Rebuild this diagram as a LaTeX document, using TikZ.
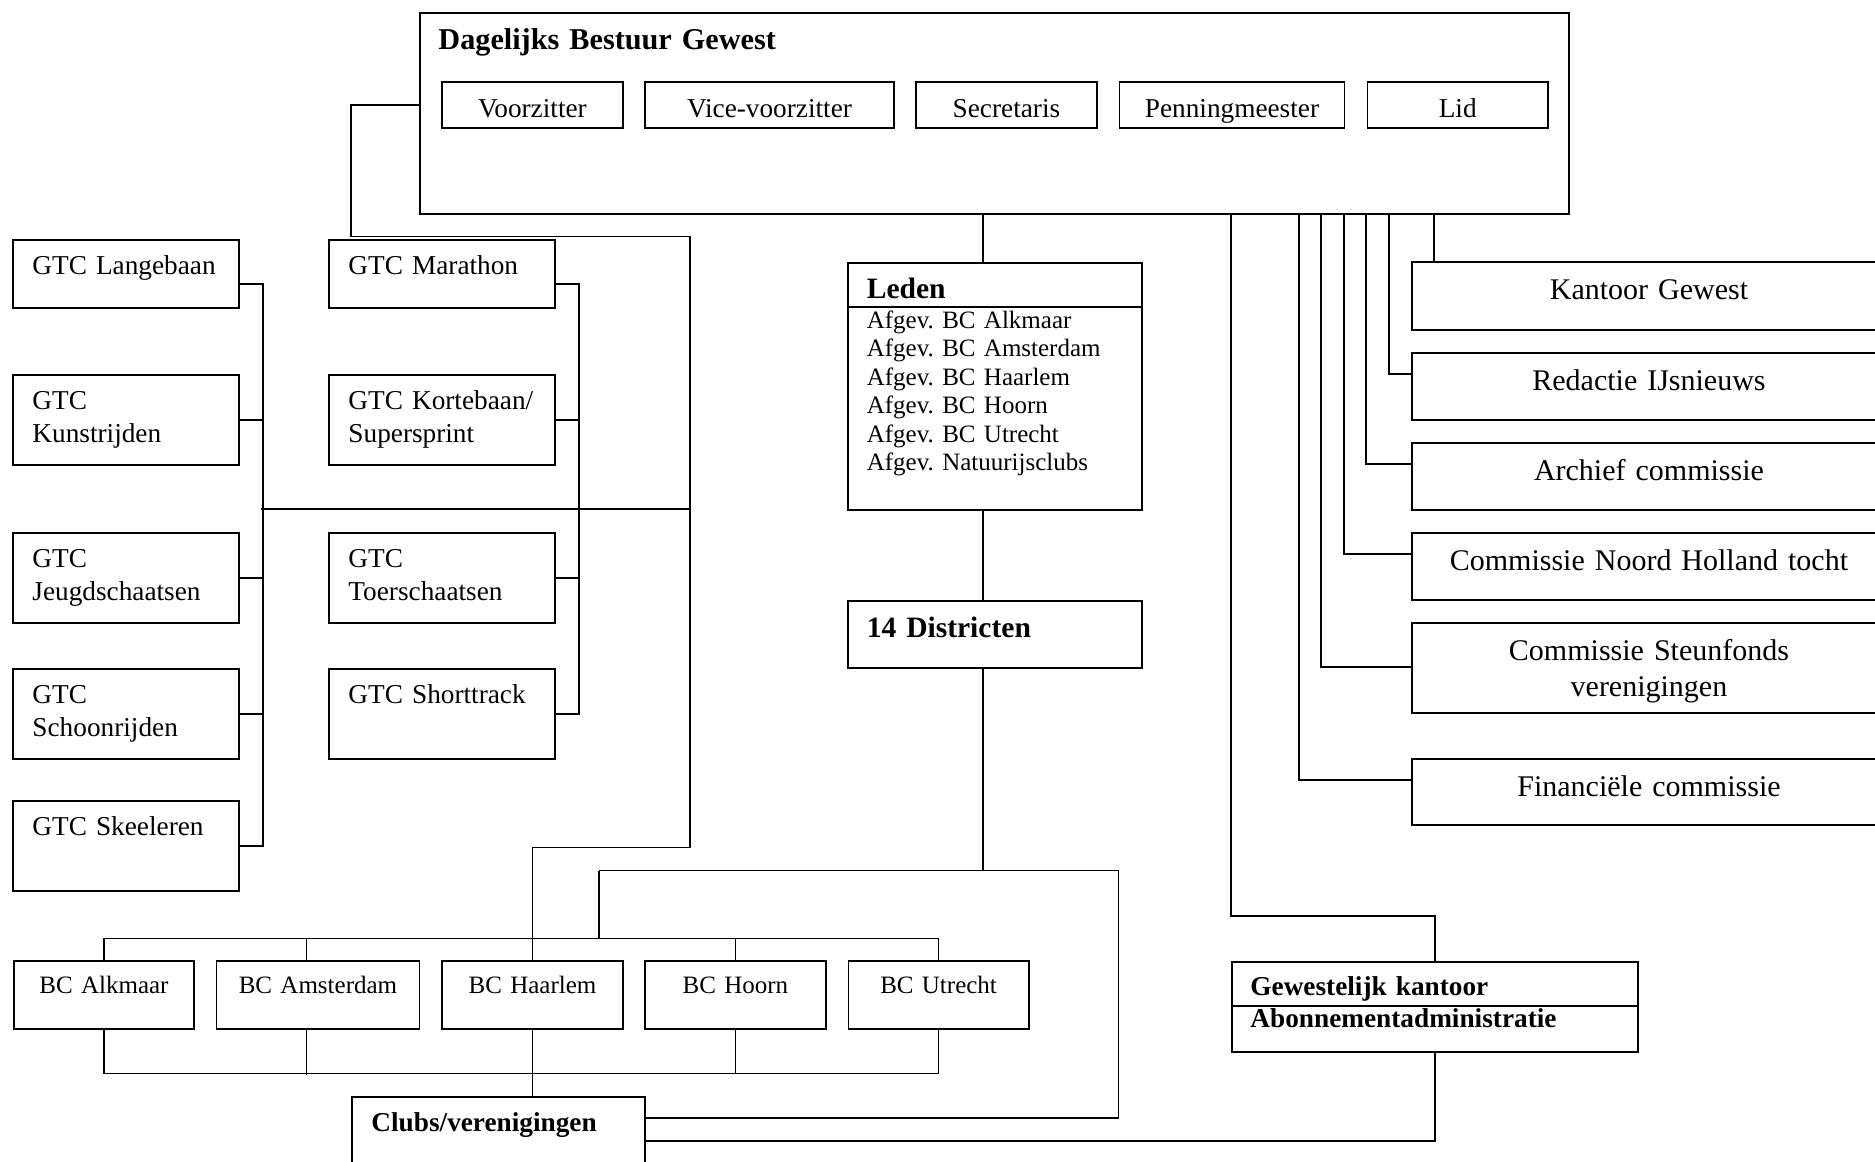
\documentclass[tikz,border=0pt]{standalone}
\usepackage{fontspec}
\setmainfont{Liberation Serif}
\frenchspacing

\newcommand{\ftitle}{\fontsize{13.3}{16}\selectfont\bfseries}
\newcommand{\fhead}{\fontsize{13}{15.6}\selectfont\bfseries}
\newcommand{\fbold}{\fontsize{12}{14.39}\selectfont\bfseries}
\newcommand{\fgtc}{\fontsize{12}{14.3}\selectfont}
\newcommand{\fcom}{\fontsize{13.2}{15.84}\selectfont}
\newcommand{\fsmall}{\fontsize{11}{12.53}\selectfont}
\newcommand{\fmem}{\fontsize{12}{14}\selectfont}

\tikzset{
    box/.style 2 args={draw, line width=0.85pt, anchor=north west, inner sep=0pt,
        minimum width=#1*0.44pt, minimum height=#2*0.44pt},
    lab/.style={draw=none, inner sep=0pt, minimum size=0pt, text width=200pt},
    gtc/.style 2 args={box={226}{#1}, label={[lab, anchor=base west, align=left, font=\fgtc, xshift=8.8pt, yshift=-15.62pt]north west:{#2}}},
    com/.style 2 args={box={474}{#1}, label={[lab, anchor=base, align=center, font=\fcom, yshift=-16.94pt]north:{#2}}},
    bc/.style 2 args={box={#1}{68}, label={[lab, anchor=base, align=center, font=\fsmall, yshift=-14.65pt]north:{#2}}},
    mem/.style 2 args={box={#1}{46}, label={[lab, anchor=base, align=center, font=\fmem, yshift=4.84pt]south:{#2}}},
    tl/.style n args={4}{label={[lab, anchor=base west, align=left, font=#1, xshift=#2*0.44pt, yshift=-#3*0.44pt]north west:{#4}}}
}

\begin{document}
\begin{tikzpicture}[x=0.44pt, y=-0.44pt, link/.style={line width=0.65pt}]
    \useasboundingbox (0,0) rectangle (1875,1162);
    \clip (0,0) rectangle (1875,1162);

    % bestuur
    \node[box={1149}{201}, tl={\ftitle}{19}{38}{Dagelijks Bestuur Gewest}] (best) at (419,12) {};
    \node[mem={181}{Voorzitter}] (voorz) at (441,81) {};
    \node[mem={249}{Vice-voorzitter}] (vice) at (644,81) {};
    \node[mem={181}{Secretaris}] (secr) at (915,81) {};
    \node[mem={225}{Penningmeester}] (penn) at (1118.5,81) {};
    \node[mem={180.5}{Lid}] (lid) at (1366.5,81) {};

    % GTC
    \node[gtc={68}{GTC Langebaan}] (lang) at (12,239) {};
    \node[gtc={90}{GTC\\Kunstrijden}] (kunst) at (12,374) {};
    \node[gtc={90}{GTC\\Jeugdschaatsen}] (jeugd) at (12,532) {};
    \node[gtc={90}{GTC\\Schoonrijden}] (schoon) at (12,668) {};
    \node[gtc={90}{GTC Skeeleren}] (skeel) at (12,800) {};
    \node[gtc={68}{GTC Marathon}] (mara) at (328,239) {};
    \node[gtc={90}{GTC Kortebaan/\\Supersprint}] (korte) at (328,374) {};
    \node[gtc={90}{GTC\\Toerschaatsen}] (toer) at (328,532) {};
    \node[gtc={90}{GTC Shorttrack}] (short) at (328,668) {};

    % leden en districten
    \node[box={294}{247}, tl={\fhead}{19.4}{36.6}{Leden},
        tl={\fsmall}{19.4}{66.3}{Afgev. BC Alkmaar\\Afgev. BC Amsterdam\\Afgev. BC Haarlem\\Afgev. BC Hoorn\\Afgev. BC Utrecht\\Afgev. Natuurijsclubs}] (leden) at (847,262) {};
    \draw[line width=0.85pt] ([yshift=-19.8pt]leden.north west) -- ([yshift=-19.8pt]leden.north east);
    \node[box={294}{67}, tl={\fhead}{19.4}{37.3}{14 Districten}] (distr) at (847,600) {};

    % commissies
    \node[com={68}{Kantoor Gewest}] (kant) at (1411,261) {};
    \node[com={67}{Redactie IJsnieuws}] (redac) at (1411,352) {};
    \node[com={67}{Archief commissie}] (arch) at (1411,442) {};
    \node[com={67}{Commissie Noord Holland tocht}] (noord) at (1411,532) {};
    \node[com={90}{Commissie Steunfonds\\verenigingen}] (steun) at (1411,622) {};
    \node[com={66}{Financiële commissie}] (finan) at (1411,758) {};

    \node[box={406}{90}, tl={\fbold}{19}{34}{Gewestelijk kantoor\\Abonnementadministratie}] (gewest) at (1231,961) {};
    \draw[line width=0.85pt] ([yshift=-19.8pt]gewest.north west) -- ([yshift=-19.8pt]gewest.north east);

    % bc's en clubs
    \node[bc={180}{BC Alkmaar}] (alk) at (13,960) {};
    \node[bc={203}{BC Amsterdam}] (ams) at (215.5,960) {};
    \node[bc={181}{BC Haarlem}] (haar) at (441,960) {};
    \node[bc={181.6}{BC Hoorn}] (hoorn) at (643.6,960) {};
    \node[bc={180.2}{BC Utrecht}] (utr) at (847.5,960) {};
    \node[box={293}{90}, tl={\fbold}{20}{35.5}{Clubs/verenigingen}] (clubs) at (351,1096) {};

    \coordinate (c1) at (351,236.5);
    \coordinate (c2) at (690,847.5);
    \coordinate (c3) at (261,509);
    \coordinate (c4) at (983,870.7);
    \coordinate (c5) at (599,870.7);
    \coordinate (c6) at (1118.5,870.7);
    \coordinate (c7) at (0,938.3);
    \coordinate (c8) at (0,1073.3);
    \coordinate (c9) at (1231,916);

    \draw[link] (best.west |- voorz.west) -| (c1) -| (c2) -| (haar.north);
    \draw[link] ([yshift=-19.8pt]lang.north east) -| ([xshift=10.12pt]skeel.east) -- (skeel.east);
    \foreach \n in {kunst,jeugd,schoon} \draw[link] (\n.east) -- ++(23,0);
    \draw[link] ([yshift=-19.8pt]mara.north east) -| ([xshift=10.12pt]short.east) -- (short.east);
    \foreach \n in {korte,toer} \draw[link] (\n.east) -- ++(23,0);
    \draw[link] (c3) -- (c3 -| c2);

    \draw[link] (best.south -| c4) -- (leden.north -| c4);
    \draw[link] (leden.south -| c4) -- (distr.north -| c4);
    \draw[link] (distr.south -| c4) -- (c4);
    \draw[link] (c5) -- (c6) |- ([yshift=-9.68pt]clubs.north east);
    \draw[link] (c5) -- (c5 |- c7);

    \draw[link] (alk.north) |- (c7 -| utr.north) -- (utr.north);
    \draw[link] ([xshift=40.04pt]ams.north west) -- ++(0,-21.7);
    \draw[link] (hoorn.north) -- (hoorn.north |- c7);
    \draw[link] (alk.south) |- (c8 -| utr.south) -- (utr.south);
    \draw[link] ([xshift=40.04pt]ams.south west) -- ++(0,45);
    \draw[link] (hoorn.south) -- (hoorn.south |- c8);
    \draw[link] (haar.south) -- (haar.south |- clubs.north);

    \draw[link] (best.south -| c9) -- (c9) -| (gewest.north);
    \draw[link] (gewest.south) |- ([yshift=-19.8pt]clubs.north east);

    \draw[link] ([xshift=10.12pt]kant.north west) -- ++(0,-48);
    \foreach \n/\x/\d in {redac/1389/22, arch/1366/22, noord/1344/22, steun/1321/45, finan/1299/22}
        \draw[link] ([yshift=-\d*0.44pt]\n.north west) -| (best.south -| \x,0);
\end{tikzpicture}
\end{document}
